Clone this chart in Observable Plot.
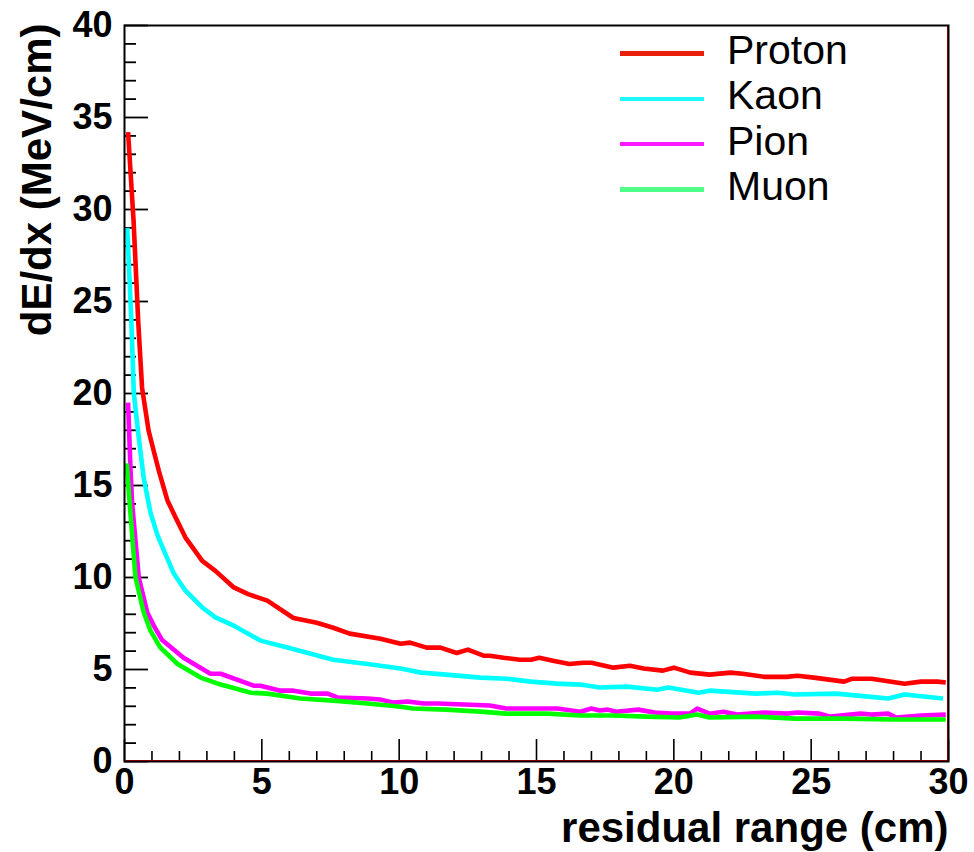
<!DOCTYPE html>
<html><head><meta charset="utf-8">
<script src="https://cdn.jsdelivr.net/npm/d3@7"></script>
<script src="https://cdn.jsdelivr.net/npm/@observablehq/plot@0.6"></script>
<style>
body{margin:0;background:#fff;}
#wrap{position:relative;width:974px;height:852px;font-family:"Liberation Sans",Arial,Helvetica,sans-serif;}
#legend{position:absolute;left:620px;top:31px;}
.row{display:flex;align-items:center;height:45.3px;}
.sw{width:84px;height:4.5px;margin-right:23px;}
.lab{font-size:41px;line-height:45px;color:#000;position:relative;top:-3px;}
</style></head><body><div id="wrap"></div>
<script>
// ---- data ----
const seriesNames = ["Proton", "Kaon", "Pion", "Muon"];
const lineColors = ["#ff0000", "#00ffff", "#ff00ff", "#00ff00"];
const legendColors = ["#e8200a", "#20f8ff", "#ff1aff", "#50ff88"];

const protonX = [0.13,0.33,0.5,0.64,0.88,1.06,1.25,1.56,1.86,2.22,2.83,3.31,3.98,4.5,5.2,6.15,7.0,7.6,8.2,9.32,10.05,10.4,11.0,11.5,12.1,12.5,13.07,13.3,13.8,14.4,14.8,15.1,15.6,16.2,16.7,17.0,17.8,18.4,18.9,19.6,20.0,20.6,21.3,22.06,22.5,23.3,24.1,24.5,25.1,26.2,26.5,27.2,28.4,29.0,29.6,29.9];
const protonY = [34.2,29.4,23.9,20.3,17.96,16.9,15.8,14.2,13.26,12.17,10.9,10.36,9.46,9.1,8.74,7.8,7.54,7.27,6.95,6.67,6.4,6.46,6.19,6.19,5.9,6.08,5.75,5.75,5.64,5.53,5.53,5.64,5.48,5.3,5.37,5.37,5.1,5.2,5.05,4.94,5.1,4.83,4.72,4.83,4.77,4.6,4.6,4.66,4.56,4.34,4.5,4.5,4.23,4.34,4.34,4.29];

const kaonX = [0.1,0.25,0.34,0.52,0.7,0.95,1.2,1.49,1.8,2.22,2.83,3.31,3.98,4.95,5.93,7.6,8.85,10.05,10.8,11.7,12.96,13.9,14.8,15.75,16.6,17.3,18.3,19.4,19.8,20.9,21.3,23.0,23.8,24.4,25.9,26.7,27.8,28.4,29.8];
const kaonY = [29.0,23.9,20.0,17.6,15.4,13.5,12.3,11.27,10.2,9.28,8.37,7.83,7.38,6.57,6.2,5.53,5.3,5.05,4.83,4.72,4.56,4.5,4.34,4.23,4.18,4.02,4.07,3.9,4.02,3.74,3.85,3.69,3.74,3.64,3.69,3.58,3.42,3.64,3.42];

const pionX = [0.13,0.22,0.28,0.52,0.83,1.06,1.37,2.15,3.13,3.5,4.7,4.95,5.68,6.15,6.77,7.4,7.75,8.85,9.3,9.8,10.3,10.9,11.4,13.3,13.9,14.5,15.75,16.6,17.0,17.3,17.6,17.9,18.7,19.3,19.9,20.6,20.85,21.3,21.8,22.3,23.3,24.1,24.5,25.3,25.7,26.8,27.2,27.8,28.1,29.0,29.9];
const pionY = [19.5,15.8,14.0,10.0,8.1,7.4,6.6,5.64,4.77,4.77,4.12,4.12,3.85,3.85,3.69,3.69,3.48,3.42,3.37,3.2,3.26,3.15,3.15,3.04,2.88,2.88,2.88,2.7,2.88,2.77,2.82,2.7,2.82,2.66,2.6,2.6,2.88,2.6,2.7,2.55,2.66,2.6,2.66,2.6,2.44,2.6,2.55,2.6,2.39,2.5,2.55];

const muonX = [0.08,0.2,0.4,0.7,0.95,1.3,1.93,2.77,3.4,4.6,5.2,6.4,7.6,8.85,10.05,10.5,11.7,12.96,13.9,15.4,16.6,17.8,19.0,20.2,20.85,21.3,23.0,24.4,26.2,28.0,29.9];
const muonY = [16.2,13.8,10.0,8.1,7.1,6.2,5.3,4.56,4.23,3.74,3.69,3.42,3.31,3.15,2.98,2.88,2.82,2.71,2.6,2.6,2.5,2.5,2.44,2.39,2.55,2.39,2.44,2.33,2.33,2.28,2.28];

const xTickLabels = [0, 5, 10, 15, 20, 25, 30];
const yTickLabels = [0, 5, 10, 15, 20, 25, 30, 35, 40];
const xMinorTicks = d3.range(0, 31).filter(v => v % 5 !== 0);
const yMinorTicks = d3.range(0, 41).filter(v => v % 5 !== 0);
const xTitle = "residual range (cm)";
const yTitle = "dE/dx (MeV/cm)";

// ---- build ----
const W = 974, H = 852, mL = 124, mR = 26, mT = 25, mB = 91;
const pw = W - mL - mR, ph = H - mT - mB;
const allX = [protonX, kaonX, pionX, muonX];
const allY = [protonY, kaonY, pionY, muonY];
const series = seriesNames.map((name, i) => ({
  name, color: lineColors[i],
  pts: allX[i].map((x, j) => ({x, y: allY[i][j]}))
}));

const chart = Plot.plot({
  width: W, height: H,
  marginLeft: mL, marginRight: mR, marginTop: mT, marginBottom: mB,
  style: {fontFamily: '"Liberation Sans", Arial, Helvetica, sans-serif', background: "#fff", color: "#000"},
  x: {domain: [0, 30]},
  y: {domain: [0, 40]},
  marks: [
    Plot.ruleX(xMinorTicks, {x: d => d, insetTop: ph - 10, stroke: "#000", strokeWidth: 1.6}),
    Plot.ruleX(xTickLabels, {x: d => d, insetTop: ph - 22, stroke: "#000", strokeWidth: 1.6}),
    Plot.ruleY(yMinorTicks, {y: d => d, insetRight: pw - 12, stroke: "#000", strokeWidth: 1.8}),
    Plot.ruleY(yTickLabels, {y: d => d, insetRight: pw - 24, stroke: "#000", strokeWidth: 1.8}),
    ...series.map(s => Plot.line(s.pts, {x: "x", y: "y", stroke: s.color, strokeWidth: 4.6, strokeLinejoin: "round", strokeLinecap: "butt"})),
    Plot.ruleY([0], {stroke: "#ff0000", strokeWidth: 1, dy: -1}),
    Plot.ruleX([30], {stroke: "#ff0000", strokeWidth: 1, dx: -1}),
    Plot.frame({stroke: "#000", strokeWidth: 2}),
    Plot.axisX({ticks: xTickLabels, tickSize: 0, tickPadding: 7, fontSize: 36, fontWeight: "bold", label: null, tickFormat: d => String(d)}),
    Plot.axisY({ticks: yTickLabels, tickSize: 0, tickPadding: 12, fontSize: 36, fontWeight: "bold", label: null, tickFormat: d => String(d)}),
    Plot.text([xTitle], {text: d => d, frameAnchor: "bottom-right", textAnchor: "end", lineAnchor: "bottom", dy: 80, fontSize: 42, fontWeight: "bold", fill: "#000"}),
    Plot.text([yTitle], {text: d => d, frameAnchor: "top-left", textAnchor: "end", lineAnchor: "middle", rotate: -90, dx: -87, dy: -2, fontSize: 42, fontWeight: "bold", fill: "#000"})
  ]
});

const wrap = document.getElementById("wrap");
wrap.appendChild(chart);

const legend = document.createElement("div");
legend.id = "legend";
seriesNames.forEach((name, i) => {
  const row = document.createElement("div");
  row.className = "row";
  const sw = document.createElement("div");
  sw.className = "sw";
  sw.style.background = legendColors[i];
  const lab = document.createElement("span");
  lab.className = "lab";
  lab.textContent = name;
  row.appendChild(sw); row.appendChild(lab);
  legend.appendChild(row);
});
wrap.appendChild(legend);
</script></body></html>
